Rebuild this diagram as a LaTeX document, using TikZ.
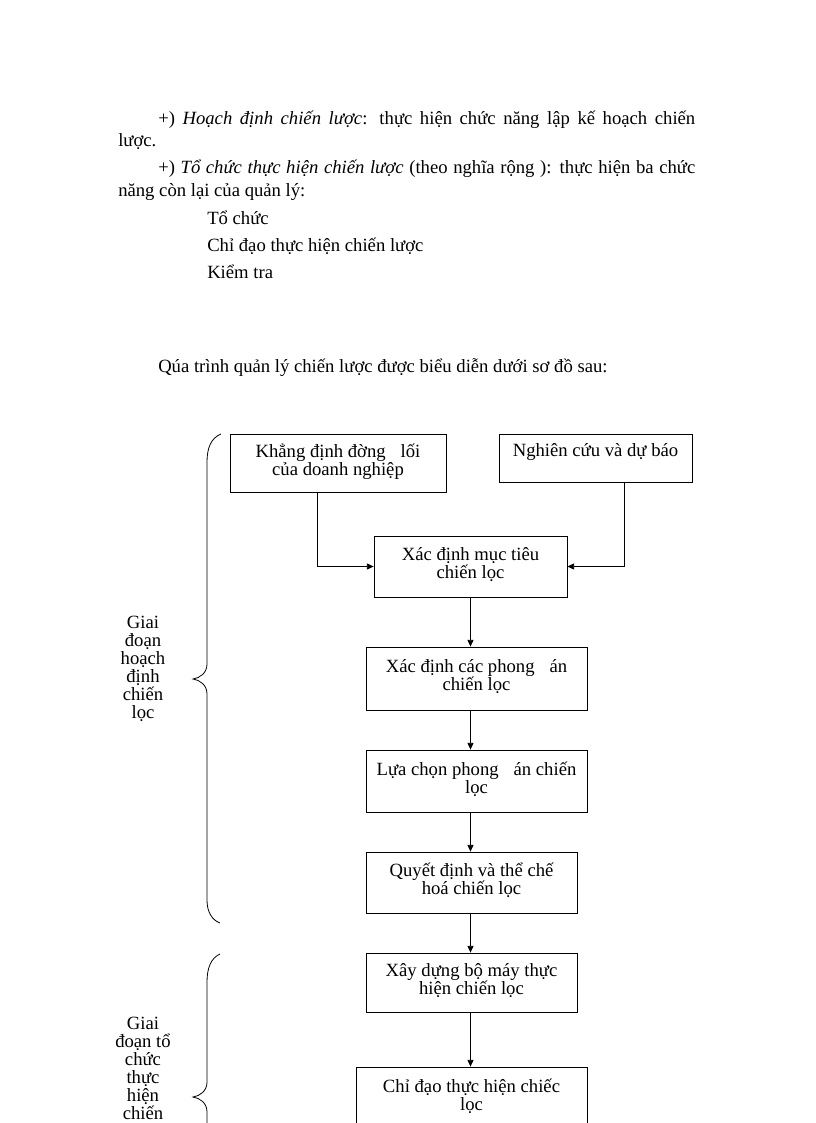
\documentclass[tikz,border=0pt]{standalone}
\usepackage{fontspec}
\setmainfont{Liberation Serif}
\usetikzlibrary{arrows.meta}
\begin{document}
\begin{tikzpicture}[x=0.75pt,y=-0.75pt,font=\fontsize{14}{13.5}\selectfont]
            \tikzstyle{box node}=[draw,rectangle,align=center,inner sep=0,line width=0.6pt,text depth=5pt]
            \tikzstyle{text line}=[anchor=base west,inner sep=0]
            \tikzstyle{stage label}=[align=center,inner sep=0]
            \tikzstyle{flow arrow}=[-{Triangle[length=5pt,width=4.5pt]},line width=0.6pt]
            \tikzstyle{brace line}=[line width=0.6pt]

            \useasboundingbox (0,0) rectangle (816,1123);
            \clip (0,0) rectangle (816,1123);

            % doan van
            \node(l1)[text line] at (158,125) {\makebox[402.75pt][s]{+) \textit{Hoạch định chiến lược}: thực hiện chức năng lập kế hoạch chiến}};
            \node(l2)[text line] at (118,147) {lược.};
            \node(l3)[text line] at (158,174) {\makebox[402.75pt][s]{+) \textit{Tổ chức thực hiện chiến lược} (theo nghĩa rộng ): thực hiện ba chức}};
            \node(l4)[text line] at (118,197) {năng còn lại của quản lý:};
            \node(l5)[text line] at (207,224) {Tổ chức};
            \node(l6)[text line] at (207,251) {Chỉ đạo thực hiện chiến lược};
            \node(l7)[text line] at (207,278) {Kiểm tra};
            \node(l8)[text line] at (158,372) {Qúa trình quản lý chiến lược được biểu diễn dưới sơ đồ sau:};

            % so do
            \node(kdinh)[box node,minimum width=162pt,minimum height=43.5pt] at (338,463) {Khẳng định đờng\hspace{0.8em}lối\\của doanh nghiệp};
            \node(nckuu)[box node,minimum width=144.75pt,minimum height=36pt,text depth=12pt] at (595.5,458) {Nghiên cứu và dự báo};
            \node(muctieu)[box node,minimum width=144.75pt,minimum height=45.75pt] at (470.5,566.5) {Xác định mục tiêu\\chiến lọc};
            \node(phuongan)[box node,minimum width=165.75pt,minimum height=47.25pt] at (476.5,678.5) {Xác định các phong\hspace{0.8em}án\\chiến lọc};
            \node(luachon)[box node,minimum width=165.75pt,minimum height=46.5pt] at (476.5,781) {Lựa chọn phong\hspace{0.8em}án chiến\\lọc};
            \node(quyetdinh)[box node,minimum width=158.25pt,minimum height=45.75pt] at (471.5,882.5) {Quyết định và thể chế\\hoá chiến lọc};
            \node(xaydung)[box node,minimum width=158.25pt,minimum height=44.25pt] at (471.5,982.5) {Xây dựng bộ máy thực\\hiện chiến lọc};
            \node(chidao)[box node,minimum width=173.25pt,minimum height=46.5pt] at (471.5,1098) {Chỉ đạo thực hiện chiếc\\lọc};

            \draw[flow arrow] ([xshift=-15.75pt]kdinh.south) |- (muctieu.west);
            \draw[flow arrow] ([xshift=21.4pt]nckuu.south) |- (muctieu.east);
            \draw[flow arrow] (muctieu.south) -- (muctieu.south |- phuongan.north);
            \draw[flow arrow] (muctieu |- phuongan.south) -- (muctieu |- luachon.north);
            \draw[flow arrow] (muctieu |- luachon.south) -- (muctieu |- quyetdinh.north);
            \draw[flow arrow] (muctieu |- quyetdinh.south) -- (muctieu |- xaydung.north);
            \draw[flow arrow] (muctieu |- xaydung.south) -- (muctieu |- chidao.north);

            % ngoac
            \draw[brace line] (221,434) .. controls (211,438) and (207,448) .. (207,462) -- (207,664)
                .. controls (207,673) and (200,678) .. (193,679) .. controls (200,680) and (207,685) .. (207,694)
                -- (207,900) .. controls (207,912) and (212,920) .. (220,923);
            \draw[brace line] (220,954) .. controls (211,958) and (207,968) .. (207,982) -- (207,1082)
                .. controls (207,1091) and (200,1096) .. (193,1097) .. controls (200,1098) and (207,1103) .. (207,1112)
                -- (207,1212) .. controls (207,1226) and (211,1236) .. (220,1240);
            \node(gd1)[stage label] at (143,669) {Giai\\đoạn\\hoạch\\định\\chiến\\lọc};
            \node(gd2)[stage label] at (143,1068) {Giai\\đoạn tổ\\chức\\thực\\hiện\\chiến};
\end{tikzpicture}
\end{document}
